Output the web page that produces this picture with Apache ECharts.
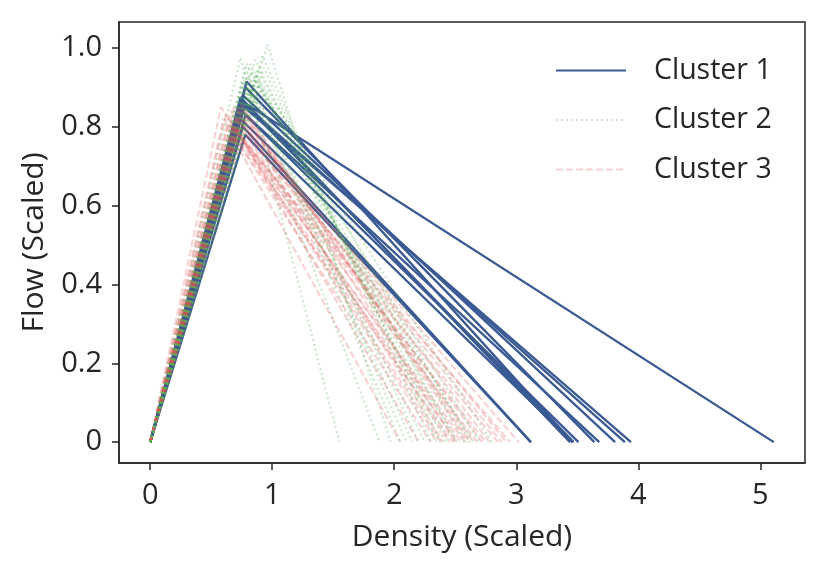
<!DOCTYPE html>
<html>
<head>
<meta charset="utf-8">
<script src="https://cdn.jsdelivr.net/npm/echarts@6/dist/echarts.min.js"></script>
<style>
html,body{margin:0;padding:0;background:#fff;}
#chart{width:830px;height:571px;}
</style>
</head>
<body>
<div id="chart"></div>
<script>
// Cluster 1 (solid blue): critical density, capacity, jam density
const c1Kc = [0.79, 0.78, 0.76, 0.78, 0.74, 0.76, 0.77, 0.75, 0.78, 0.78, 0.76, 0.74, 0.75];
const c1Q  = [0.915, 0.90, 0.88, 0.86, 0.875, 0.86, 0.85, 0.84, 0.83, 0.78, 0.80, 0.82, 0.865];
const c1Kj = [3.46, 3.64, 3.81, 5.11, 3.44, 3.89, 3.94, 3.68, 3.51, 3.12, 3.12, 3.46, 3.47];

// Cluster 2 (dotted green)
const c2Kc = [0.96, 0.74, 0.92, 0.82, 0.88, 0.80, 0.85, 0.78, 0.90, 0.86, 0.76, 0.83, 0.81, 0.87, 0.79, 0.93, 0.84, 0.77, 0.89, 0.82];
const c2Q  = [1.01, 0.975, 0.98, 0.96, 0.945, 0.93, 0.92, 0.95, 0.90, 0.97, 0.91, 0.94, 0.89, 0.93, 0.96, 0.95, 0.88, 0.92, 0.91, 0.90];
const c2Kj = [1.97, 1.55, 2.30, 2.45, 2.62, 2.20, 2.52, 2.10, 2.70, 2.38, 1.88, 2.58, 2.15, 2.80, 2.42, 2.35, 2.65, 2.25, 2.50, 2.05];

// Cluster 3 (dashed red)
const c3Kc = [0.58, 0.62, 0.66, 0.70, 0.72, 0.74, 0.68, 0.64, 0.76, 0.71, 0.73, 0.69, 0.75, 0.67, 0.72, 0.70, 0.74, 0.65, 0.77, 0.71, 0.73, 0.69, 0.60, 0.75];
const c3Q  = [0.85, 0.83, 0.84, 0.82, 0.80, 0.86, 0.78, 0.81, 0.84, 0.79, 0.83, 0.85, 0.77, 0.80, 0.82, 0.76, 0.81, 0.79, 0.83, 0.84, 0.78, 0.80, 0.82, 0.85];
const c3Kj = [2.35, 2.55, 2.72, 2.45, 2.95, 2.62, 2.30, 2.85, 2.50, 2.68, 2.40, 2.78, 2.20, 2.58, 3.02, 2.05, 2.88, 2.48, 2.65, 2.92, 2.38, 2.75, 2.52, 2.60];

const xTicks = [0, 1, 2, 3, 4, 5];
const yTicks = [0, 0.2, 0.4, 0.6, 0.8, 1.0];
const yTickLabels = ['0', '0.2', '0.4', '0.6', '0.8', '1.0'];
const clusterNames = ['Cluster 1', 'Cluster 2', 'Cluster 3'];

const FONT = 'Open Sans';
const INK = '#262626';

function makeSeries(name, kc, q, kj, style, z) {
  return kc.map((k, i) => ({
    name: name,
    type: 'line',
    symbol: 'none',
    showSymbol: false,
    silent: true,
    animation: false,
    itemStyle: { color: style.color },
    lineStyle: style,
    z: z,
    data: [[0, 0], [k, q[i]], [kj[i], 0]]
  }));
}

const blueStyle = { color: '#3a5a94', width: 2.3, type: 'solid' };
const greenStyle = { color: 'rgba(90,175,90,0.3)', width: 2.2, type: [2, 3] };
const redStyle = { color: 'rgba(225,85,85,0.25)', width: 2.2, type: [7, 3] };

const series = [].concat(
  makeSeries(clusterNames[0], c1Kc, c1Q, c1Kj, blueStyle, 2),
  makeSeries(clusterNames[2], c3Kc, c3Q, c3Kj, redStyle, 3),
  makeSeries(clusterNames[1], c2Kc, c2Q, c2Kj, greenStyle, 3)
);

const chart = echarts.init(document.getElementById('chart'), null, { renderer: 'canvas' });
chart.setOption({
  backgroundColor: '#fff',
  animation: false,
  grid: { left: 119, right: 25, top: 22, bottom: 108, show: true, borderColor: INK, borderWidth: 1.5, containLabel: false },
  legend: {
    show: true,
    orient: 'vertical',
    left: 555,
    top: 56,
    padding: 0,
    itemWidth: 70,
    itemHeight: 14,
    itemGap: 20.5,
    selectedMode: false,
    itemStyle: { opacity: 0 },
    textStyle: { fontFamily: FONT, fontSize: 28.5, color: INK, padding: [0, 0, 0, 23] },
    data: clusterNames
  },
  xAxis: {
    type: 'value',
    min: -0.2555,
    max: 5.366,
    name: 'Density (Scaled)',
    nameLocation: 'middle',
    nameGap: 59,
    nameTextStyle: { fontFamily: FONT, fontSize: 30, color: INK },
    axisLine: { show: true, onZero: false, lineStyle: { color: INK, width: 1.5 } },
    axisTick: { show: true, length: 7, inside: false, customValues: xTicks, lineStyle: { color: INK, width: 1.5 } },
    axisLabel: { customValues: xTicks, fontFamily: FONT, fontSize: 29, color: INK, margin: 18 },
    splitLine: { show: false }
  },
  yAxis: {
    type: 'value',
    min: -0.053,
    max: 1.066,
    name: 'Flow (Scaled)',
    nameLocation: 'middle',
    nameGap: 70,
    nameRotate: 90,
    nameTextStyle: { fontFamily: FONT, fontSize: 30, color: INK },
    axisLine: { show: true, onZero: false, lineStyle: { color: INK, width: 1.5 } },
    axisTick: { show: true, length: 7, inside: false, customValues: yTicks, lineStyle: { color: INK, width: 1.5 } },
    axisLabel: {
      customValues: yTicks, fontFamily: FONT, fontSize: 29, color: INK, margin: 17,
      formatter: function (v) {
        const idx = yTicks.findIndex(t => Math.abs(t - v) < 1e-9);
        return idx >= 0 ? yTickLabels[idx] : '';
      }
    },
    splitLine: { show: false }
  },
  series: series
});
</script>
</body>
</html>
